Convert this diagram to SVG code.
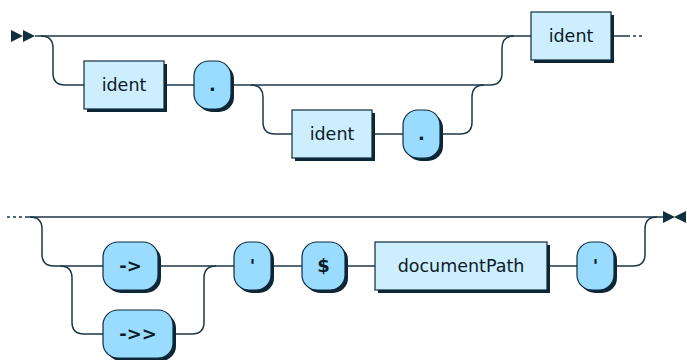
<svg xmlns="http://www.w3.org/2000/svg" width="687" height="360" viewBox="0 0 687 360">
<style>
.line{fill:none;stroke:#1b3747;stroke-width:1.5}
.dots{fill:none;stroke:#1b3747;stroke-width:1.5;stroke-dasharray:3 3}
.arrow{fill:#13303f}
.shadow{fill:#0c2636}
rect.nt{fill:#cdeeff;stroke:#0f2b3d;stroke-width:1.2}
rect.t{fill:#99dcff;stroke:#0f2b3d;stroke-width:1.2}
text{font-family:"DejaVu Sans","Liberation Sans",sans-serif;font-size:17.5px;fill:#0a1c26;text-anchor:middle}
text.tt{font-weight:bold;font-size:18px}
</style>
<rect width="687" height="360" fill="#ffffff"/>
<g id="connectors">
<polygon class="arrow" points="11,30 23,36 11,42"/>
<polygon class="arrow" points="23,30 35,36 23,42"/>
<path class="line" d="M35 36 H531"/>
<path class="line" d="M41 36 q12 0 12 12 V73 q0 12 12 12 H84"/>
<path class="line" d="M164 85 H194"/>
<path class="line" d="M231 85 H490 q12 0 12 -12 V48 q0 -12 12 -12"/>
<path class="line" d="M251 85 q12 0 12 12 V122 q0 12 12 12 H292"/>
<path class="line" d="M372 134 H403"/>
<path class="line" d="M440 134 H460 q12 0 12 -12 V97 q0 -12 12 -12"/>
<path class="line" d="M611 36 H627"/>
<path class="dots" d="M627 36 H645"/>
<path class="dots" d="M7 217 H25"/>
<path class="line" d="M25 217 H663"/>
<path class="line" d="M30 217 q12 0 12 12 V254 q0 12 12 12 H103"/>
<path class="line" d="M60 266 q12 0 12 12 V322 q0 12 12 12 H103"/>
<path class="line" d="M158 266 H234"/>
<path class="line" d="M173 334 H192 q12 0 12 -12 V278 q0 -12 12 -12"/>
<path class="line" d="M271 266 H302"/>
<path class="line" d="M345 266 H375"/>
<path class="line" d="M547 266 H577"/>
<path class="line" d="M614 266 H633 q12 0 12 -12 V229 q0 -12 12 -12"/>
<polygon class="arrow" points="663,211 675,217 663,223"/>
<polygon class="arrow" points="686,211 674,217 686,223"/>
</g>
<g id="n1"><rect class="shadow" x="87" y="64" width="80" height="48"/><rect class="nt" x="84" y="61" width="80" height="48"/><text x="124" y="91">ident</text></g>
<g id="t1"><rect class="shadow" x="197" y="64" width="37" height="48" rx="15"/><rect class="t" x="194" y="61" width="37" height="48" rx="15"/><text class="tt" x="212.5" y="91">.</text></g>
<g id="n2"><rect class="shadow" x="295" y="113" width="80" height="48"/><rect class="nt" x="292" y="110" width="80" height="48"/><text x="332" y="140">ident</text></g>
<g id="t2"><rect class="shadow" x="406" y="113" width="37" height="48" rx="15"/><rect class="t" x="403" y="110" width="37" height="48" rx="15"/><text class="tt" x="421.5" y="140">.</text></g>
<g id="n3"><rect class="shadow" x="534" y="15" width="80" height="48"/><rect class="nt" x="531" y="12" width="80" height="48"/><text x="571" y="42">ident</text></g>
<g id="t3"><rect class="shadow" x="106" y="245" width="55" height="48" rx="15"/><rect class="t" x="103" y="242" width="55" height="48" rx="15"/><text class="tt" x="130.5" y="272">-&gt;</text></g>
<g id="t4"><rect class="shadow" x="106" y="313" width="70" height="48" rx="15"/><rect class="t" x="103" y="310" width="70" height="48" rx="15"/><text class="tt" x="138" y="340">-&gt;&gt;</text></g>
<g id="t5"><rect class="shadow" x="237" y="245" width="37" height="48" rx="15"/><rect class="t" x="234" y="242" width="37" height="48" rx="15"/><text class="tt" x="252.5" y="272">'</text></g>
<g id="t6"><rect class="shadow" x="305" y="245" width="43" height="48" rx="15"/><rect class="t" x="302" y="242" width="43" height="48" rx="15"/><text class="tt" x="323.5" y="272">$</text></g>
<g id="n4"><rect class="shadow" x="378" y="245" width="172" height="48"/><rect class="nt" x="375" y="242" width="172" height="48"/><text x="461" y="272">documentPath</text></g>
<g id="t7"><rect class="shadow" x="580" y="245" width="37" height="48" rx="15"/><rect class="t" x="577" y="242" width="37" height="48" rx="15"/><text class="tt" x="595.5" y="272">'</text></g>
</svg>
